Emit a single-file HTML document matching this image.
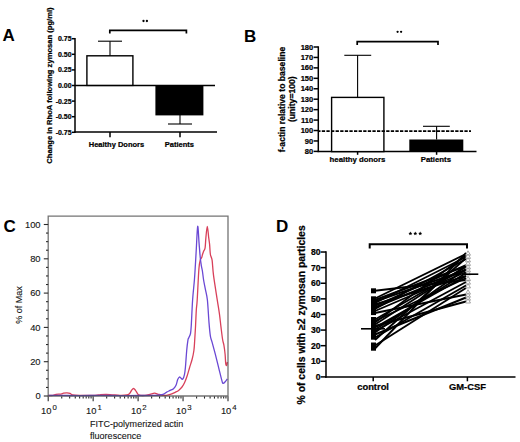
<!DOCTYPE html>
<html><head><meta charset="utf-8"><style>
html,body{margin:0;padding:0;background:#fff;width:520px;height:442px;overflow:hidden}
svg{display:block}
text{font-family:"Liberation Sans",sans-serif}
.b{font-weight:bold;fill:#000;stroke:#000;stroke-width:0.22px}
.r{fill:#151515;stroke:#151515;stroke-width:0.12px}
.lbl{font-weight:bold;font-size:17px;fill:#000}
.k15{stroke:#000;stroke-width:1.5}
.k1{stroke:#000;stroke-width:1.1}
.g{stroke:#2a2a2a;stroke-width:1.1}
</style></head><body>
<svg width="520" height="442" viewBox="0 0 520 442">
<rect width="520" height="442" fill="#fff"/>
<text x="2.6" y="40.8" class="lbl">A</text>
<text transform="translate(51.8,85.6) rotate(-90)" text-anchor="middle" class="b" font-size="7.6">Change in RhoA following zymosan (pg/ml)</text>
<text x="71.6" y="41.2" text-anchor="end" class="b" font-size="7">0.75</text>
<line x1="72" y1="38.7" x2="75" y2="38.7" class="k15"/>
<text x="71.6" y="56.8" text-anchor="end" class="b" font-size="7">0.50</text>
<line x1="72" y1="54.3" x2="75" y2="54.3" class="k15"/>
<text x="71.6" y="72.4" text-anchor="end" class="b" font-size="7">0.25</text>
<line x1="72" y1="69.9" x2="75" y2="69.9" class="k15"/>
<text x="71.6" y="88" text-anchor="end" class="b" font-size="7">0.00</text>
<line x1="72" y1="85.5" x2="75" y2="85.5" class="k15"/>
<text x="71.6" y="103.6" text-anchor="end" class="b" font-size="7">-0.25</text>
<line x1="72" y1="101.1" x2="75" y2="101.1" class="k15"/>
<text x="71.6" y="119.2" text-anchor="end" class="b" font-size="7">-0.50</text>
<line x1="72" y1="116.7" x2="75" y2="116.7" class="k15"/>
<text x="71.6" y="134.8" text-anchor="end" class="b" font-size="7">-0.75</text>
<line x1="72" y1="132.3" x2="75" y2="132.3" class="k15"/>
<line x1="75" y1="38" x2="75" y2="133.1" class="k15"/>
<line x1="74.3" y1="132.1" x2="217" y2="132.1" class="k15"/>
<line x1="110" y1="132.1" x2="110" y2="137.3" class="k15"/>
<line x1="180" y1="132.1" x2="180" y2="137.3" class="k15"/>
<line x1="75" y1="85.4" x2="215" y2="85.4" class="k15"/>
<rect x="86.9" y="55.8" width="46" height="29.6" fill="#fff" stroke="#000" stroke-width="1.4"/>
<line x1="110" y1="55.8" x2="110" y2="41.2" class="k1"/><line x1="98" y1="41.2" x2="122" y2="41.2" class="k1"/>
<rect x="155.4" y="85.4" width="48" height="30" fill="#000"/>
<line x1="180" y1="115" x2="180" y2="124" class="k1"/><line x1="168" y1="124" x2="192" y2="124" class="k1"/>
<path d="M109.8 33.5V30.35H186.4V33.5" fill="none" stroke="#000" stroke-width="1.7"/>
<circle cx="143.5" cy="21" r="1.15"/><circle cx="146.9" cy="21" r="1.15"/>
<text x="116.5" y="147.3" text-anchor="middle" class="b" font-size="7.5">Healthy Donors</text>
<text x="179.4" y="147.3" text-anchor="middle" class="b" font-size="7.5">Patients</text>
<text x="244" y="41.6" class="lbl">B</text>
<text transform="translate(285.2,99.6) rotate(-90)" text-anchor="middle" class="b" font-size="8.6">f-actin relative to baseline</text>
<text transform="translate(295.4,99.2) rotate(-90)" text-anchor="middle" class="b" font-size="8.6">(unity=100)</text>
<text x="313.2" y="154" text-anchor="end" class="b" font-size="7.5">80</text>
<line x1="313.6" y1="151.4" x2="318.3" y2="151.4" class="k15"/>
<text x="313.2" y="143.56" text-anchor="end" class="b" font-size="7.5">90</text>
<line x1="313.6" y1="140.96" x2="318.3" y2="140.96" class="k15"/>
<text x="313.2" y="133.12" text-anchor="end" class="b" font-size="7.5">100</text>
<line x1="313.6" y1="130.52" x2="318.3" y2="130.52" class="k15"/>
<text x="313.2" y="122.68" text-anchor="end" class="b" font-size="7.5">110</text>
<line x1="313.6" y1="120.08" x2="318.3" y2="120.08" class="k15"/>
<text x="313.2" y="112.24" text-anchor="end" class="b" font-size="7.5">120</text>
<line x1="313.6" y1="109.64" x2="318.3" y2="109.64" class="k15"/>
<text x="313.2" y="101.8" text-anchor="end" class="b" font-size="7.5">130</text>
<line x1="313.6" y1="99.2" x2="318.3" y2="99.2" class="k15"/>
<text x="313.2" y="91.36" text-anchor="end" class="b" font-size="7.5">140</text>
<line x1="313.6" y1="88.76" x2="318.3" y2="88.76" class="k15"/>
<text x="313.2" y="80.92" text-anchor="end" class="b" font-size="7.5">150</text>
<line x1="313.6" y1="78.32" x2="318.3" y2="78.32" class="k15"/>
<text x="313.2" y="70.48" text-anchor="end" class="b" font-size="7.5">160</text>
<line x1="313.6" y1="67.88" x2="318.3" y2="67.88" class="k15"/>
<text x="313.2" y="60.04" text-anchor="end" class="b" font-size="7.5">170</text>
<line x1="313.6" y1="57.44" x2="318.3" y2="57.44" class="k15"/>
<text x="313.2" y="49.6" text-anchor="end" class="b" font-size="7.5">180</text>
<line x1="313.6" y1="47" x2="318.3" y2="47" class="k15"/>
<line x1="318.3" y1="46.3" x2="318.3" y2="152.1" class="k15"/>
<line x1="317.6" y1="151.6" x2="476.5" y2="151.6" class="k15"/>
<line x1="357.6" y1="151.6" x2="357.6" y2="154.8" class="k15"/>
<line x1="436.6" y1="151.6" x2="436.6" y2="154.8" class="k15"/>
<rect x="331.6" y="97.4" width="52.3" height="54.2" fill="#fff" stroke="#000" stroke-width="1.4"/>
<line x1="357.6" y1="97.4" x2="357.6" y2="55.3" class="k1"/><line x1="344.3" y1="55.3" x2="371.2" y2="55.3" class="k1"/>
<line x1="436.6" y1="139.5" x2="436.6" y2="126.3" class="k1"/><line x1="423" y1="126.3" x2="449.8" y2="126.3" class="k1"/>
<line x1="318.5" y1="131.1" x2="471" y2="131.1" stroke="#000" stroke-width="1.7" stroke-dasharray="3.3 1.3" stroke-dashoffset="1.3"/>
<rect x="409.3" y="139.5" width="54" height="12.1" fill="#000"/>
<path d="M357.2 45V41.6H438V45" fill="none" stroke="#000" stroke-width="1.7"/>
<circle cx="397.6" cy="31.8" r="1.15"/><circle cx="401.1" cy="31.8" r="1.15"/>
<text x="357.5" y="162" text-anchor="middle" class="b" font-size="7.8">healthy donors</text>
<text x="435.9" y="162" text-anchor="middle" class="b" font-size="7.8">Patients</text>
<text x="3.6" y="231.6" class="lbl">C</text>
<path d="M48.6 395.5C49.33 395.47 51.77 395.5 53 395.3C54.23 395.1 54.67 394.5 56 394.3C57.33 394.1 59.75 394.28 61 394.1C62.25 393.92 62.5 393.4 63.5 393.2C64.5 393 65.92 392.88 67 392.9C68.08 392.92 69.08 392.95 70 393.3C70.92 393.65 70.83 394.65 72.5 395C74.17 395.35 76.25 395.35 80 395.4C83.75 395.45 91.67 395.4 95 395.3C98.33 395.2 98.17 394.93 100 394.8C101.83 394.67 104 394.5 106 394.5C108 394.5 109.67 394.67 112 394.8C114.33 394.93 117.53 395.27 120 395.3C122.47 395.33 125.22 395.28 126.8 395C128.38 394.72 128.72 394.35 129.5 393.6C130.28 392.85 130.83 391.35 131.5 390.5C132.17 389.65 132.83 388.53 133.5 388.5C134.17 388.47 134.83 389.45 135.5 390.3C136.17 391.15 136.83 392.78 137.5 393.6C138.17 394.42 138.25 394.9 139.5 395.2C140.75 395.5 143.25 395.53 145 395.4C146.75 395.27 148.4 394.77 150 394.4C151.6 394.03 153.1 393.18 154.6 393.2C156.1 393.22 157.27 394.13 159 394.5C160.73 394.87 163.43 395.35 165 395.4C166.57 395.45 167.27 395.07 168.4 394.8C169.53 394.53 170.67 394.22 171.8 393.8C172.93 393.38 174.07 392.87 175.2 392.3C176.33 391.73 177.47 391.28 178.6 390.4C179.73 389.52 181.02 388.27 182 387C182.98 385.73 183.65 384.63 184.5 382.8C185.35 380.97 186.25 378.55 187.1 376C187.95 373.45 188.75 370.33 189.6 367.5C190.45 364.67 191.48 361.83 192.2 359C192.92 356.17 193.48 353.62 193.9 350.5C194.32 347.38 194.42 344.55 194.7 340.3C194.98 336.05 195.33 330.05 195.6 325C195.87 319.95 196.03 314.17 196.3 310C196.57 305.83 196.77 306.83 197.2 300C197.63 293.17 198.38 275.67 198.9 269C199.42 262.33 199.83 261.92 200.3 260C200.77 258.08 201.33 258.42 201.7 257.5C202.07 256.58 202.18 255.55 202.5 254.5C202.82 253.45 203.17 252.32 203.6 251.2C204.03 250.08 204.72 250.07 205.1 247.8C205.48 245.53 205.53 241.18 205.9 237.6C206.27 234.02 206.83 226.3 207.3 226.3C207.77 226.3 208.32 234.58 208.7 237.6C209.08 240.62 209.32 241.58 209.6 244.4C209.88 247.22 209.98 251.87 210.4 254.5C210.82 257.13 211.58 256.75 212.1 260.2C212.62 263.65 212.65 268.63 213.5 275.2C214.35 281.77 216.22 293.2 217.2 299.6C218.18 306 218.77 309.02 219.4 313.6C220.03 318.18 220.47 322.78 221 327.1C221.53 331.42 222.12 336.48 222.6 339.5C223.08 342.52 223.48 342.75 223.9 345.2C224.32 347.65 224.8 351.18 225.1 354.2C225.4 357.22 225.45 361.42 225.7 363.3C225.95 365.18 226.33 365.72 226.6 365.5C226.87 365.28 227.18 362.58 227.3 362" fill="none" stroke="#d8405a" stroke-width="1.3" stroke-linejoin="round"/>
<path d="M48.6 395.5C50.5 395.48 54.77 395.38 60 395.4C65.23 395.42 73.33 395.6 80 395.6C86.67 395.6 93.33 395.4 100 395.4C106.67 395.4 113.33 395.58 120 395.6C126.67 395.62 134.17 395.55 140 395.5C145.83 395.45 151.67 395.38 155 395.3C158.33 395.22 158.57 395.18 160 395C161.43 394.82 162.48 394.68 163.6 394.2C164.72 393.72 165.62 392.73 166.7 392.1C167.78 391.47 168.97 390.97 170.1 390.4C171.23 389.83 172.52 389.55 173.5 388.7C174.48 387.85 175.3 386.82 176 385.3C176.7 383.78 177.13 380.98 177.7 379.6C178.27 378.22 178.83 377.22 179.4 377C179.97 376.78 180.53 377.93 181.1 378.3C181.67 378.67 182.23 379.87 182.8 379.2C183.37 378.53 184.07 376.25 184.5 374.3C184.93 372.35 185.03 371.47 185.4 367.5C185.77 363.53 186.28 355.03 186.7 350.5C187.12 345.97 187.55 342.43 187.9 340.3C188.25 338.17 188.37 338.83 188.8 337.7C189.23 336.57 190.08 335.62 190.5 333.5C190.92 331.38 190.95 330.58 191.3 325C191.65 319.42 192.08 307.5 192.6 300C193.12 292.5 193.93 285.88 194.4 280C194.87 274.12 195.08 269.87 195.4 264.7C195.72 259.53 195.92 255.4 196.3 249C196.68 242.6 197.23 227.2 197.7 226.3C198.17 225.4 198.67 238.32 199.1 243.6C199.53 248.88 199.92 254.27 200.3 258C200.68 261.73 201.05 263.83 201.4 266C201.75 268.17 202.03 268.67 202.4 271C202.77 273.33 203.1 276.93 203.6 280C204.1 283.07 204.77 286.07 205.4 289.4C206.03 292.73 206.8 294.47 207.4 300C208 305.53 208.5 316.57 209 322.6C209.5 328.63 209.9 333 210.4 336.2C210.9 339.4 211.18 338.8 212 341.8C212.82 344.8 214.18 349.87 215.3 354.2C216.42 358.53 217.57 363.27 218.7 367.8C219.83 372.33 221.35 378.8 222.1 381.4C222.85 384 222.63 383.4 223.2 383.4C223.77 383.4 224.82 382.13 225.5 381.4C226.18 380.67 227 379.4 227.3 379" fill="none" stroke="#6a48d4" stroke-width="1.3" stroke-linejoin="round"/>
<path d="M48.2 216.2H228V396H48.2Z" fill="none" stroke="#444" stroke-opacity="0.75" stroke-width="1.3"/>
<line x1="43.8" y1="396" x2="48.2" y2="396" class="g"/>
<text x="40.6" y="399.3" text-anchor="end" class="r" font-size="9.4">0</text>
<line x1="46" y1="387.43" x2="48.2" y2="387.43" class="g"/>
<line x1="46" y1="378.85" x2="48.2" y2="378.85" class="g"/>
<line x1="46" y1="370.27" x2="48.2" y2="370.27" class="g"/>
<line x1="43.8" y1="361.7" x2="48.2" y2="361.7" class="g"/>
<text x="40.6" y="365" text-anchor="end" class="r" font-size="9.4">20</text>
<line x1="46" y1="353.12" x2="48.2" y2="353.12" class="g"/>
<line x1="46" y1="344.55" x2="48.2" y2="344.55" class="g"/>
<line x1="46" y1="335.98" x2="48.2" y2="335.98" class="g"/>
<line x1="43.8" y1="327.4" x2="48.2" y2="327.4" class="g"/>
<text x="40.6" y="330.7" text-anchor="end" class="r" font-size="9.4">40</text>
<line x1="46" y1="318.82" x2="48.2" y2="318.82" class="g"/>
<line x1="46" y1="310.25" x2="48.2" y2="310.25" class="g"/>
<line x1="46" y1="301.68" x2="48.2" y2="301.68" class="g"/>
<line x1="43.8" y1="293.1" x2="48.2" y2="293.1" class="g"/>
<text x="40.6" y="296.4" text-anchor="end" class="r" font-size="9.4">60</text>
<line x1="46" y1="284.52" x2="48.2" y2="284.52" class="g"/>
<line x1="46" y1="275.95" x2="48.2" y2="275.95" class="g"/>
<line x1="46" y1="267.38" x2="48.2" y2="267.38" class="g"/>
<line x1="43.8" y1="258.8" x2="48.2" y2="258.8" class="g"/>
<text x="40.6" y="262.1" text-anchor="end" class="r" font-size="9.4">80</text>
<line x1="46" y1="250.22" x2="48.2" y2="250.22" class="g"/>
<line x1="46" y1="241.65" x2="48.2" y2="241.65" class="g"/>
<line x1="46" y1="233.07" x2="48.2" y2="233.07" class="g"/>
<line x1="43.8" y1="224.5" x2="48.2" y2="224.5" class="g"/>
<text x="40.6" y="227.8" text-anchor="end" class="r" font-size="9.4">100</text>
<line x1="48.2" y1="396.4" x2="48.2" y2="401.2" class="g"/>
<line x1="61.73" y1="396.4" x2="61.73" y2="398.6" class="g"/>
<line x1="69.65" y1="396.4" x2="69.65" y2="398.6" class="g"/>
<line x1="75.26" y1="396.4" x2="75.26" y2="398.6" class="g"/>
<line x1="79.62" y1="396.4" x2="79.62" y2="398.6" class="g"/>
<line x1="83.18" y1="396.4" x2="83.18" y2="398.6" class="g"/>
<line x1="86.19" y1="396.4" x2="86.19" y2="398.6" class="g"/>
<line x1="88.79" y1="396.4" x2="88.79" y2="398.6" class="g"/>
<line x1="91.09" y1="396.4" x2="91.09" y2="398.6" class="g"/>
<line x1="93.15" y1="396.4" x2="93.15" y2="401.2" class="g"/>
<line x1="106.68" y1="396.4" x2="106.68" y2="398.6" class="g"/>
<line x1="114.6" y1="396.4" x2="114.6" y2="398.6" class="g"/>
<line x1="120.21" y1="396.4" x2="120.21" y2="398.6" class="g"/>
<line x1="124.57" y1="396.4" x2="124.57" y2="398.6" class="g"/>
<line x1="128.13" y1="396.4" x2="128.13" y2="398.6" class="g"/>
<line x1="131.14" y1="396.4" x2="131.14" y2="398.6" class="g"/>
<line x1="133.74" y1="396.4" x2="133.74" y2="398.6" class="g"/>
<line x1="136.04" y1="396.4" x2="136.04" y2="398.6" class="g"/>
<line x1="138.1" y1="396.4" x2="138.1" y2="401.2" class="g"/>
<line x1="151.63" y1="396.4" x2="151.63" y2="398.6" class="g"/>
<line x1="159.55" y1="396.4" x2="159.55" y2="398.6" class="g"/>
<line x1="165.16" y1="396.4" x2="165.16" y2="398.6" class="g"/>
<line x1="169.52" y1="396.4" x2="169.52" y2="398.6" class="g"/>
<line x1="173.08" y1="396.4" x2="173.08" y2="398.6" class="g"/>
<line x1="176.09" y1="396.4" x2="176.09" y2="398.6" class="g"/>
<line x1="178.69" y1="396.4" x2="178.69" y2="398.6" class="g"/>
<line x1="180.99" y1="396.4" x2="180.99" y2="398.6" class="g"/>
<line x1="183.05" y1="396.4" x2="183.05" y2="401.2" class="g"/>
<line x1="196.58" y1="396.4" x2="196.58" y2="398.6" class="g"/>
<line x1="204.5" y1="396.4" x2="204.5" y2="398.6" class="g"/>
<line x1="210.11" y1="396.4" x2="210.11" y2="398.6" class="g"/>
<line x1="214.47" y1="396.4" x2="214.47" y2="398.6" class="g"/>
<line x1="218.03" y1="396.4" x2="218.03" y2="398.6" class="g"/>
<line x1="221.04" y1="396.4" x2="221.04" y2="398.6" class="g"/>
<line x1="223.64" y1="396.4" x2="223.64" y2="398.6" class="g"/>
<line x1="225.94" y1="396.4" x2="225.94" y2="398.6" class="g"/>
<line x1="228" y1="396.4" x2="228" y2="401.2" class="g"/>
<text x="41.1" y="413.9" class="r" font-size="9.4">10<tspan dx="0.9" dy="-4.4" font-size="7.8">0</tspan></text>
<text x="86.05" y="413.9" class="r" font-size="9.4">10<tspan dx="0.9" dy="-4.4" font-size="7.8">1</tspan></text>
<text x="131" y="413.9" class="r" font-size="9.4">10<tspan dx="0.9" dy="-4.4" font-size="7.8">2</tspan></text>
<text x="175.95" y="413.9" class="r" font-size="9.4">10<tspan dx="0.9" dy="-4.4" font-size="7.8">3</tspan></text>
<text x="220.9" y="413.9" class="r" font-size="9.4">10<tspan dx="0.9" dy="-4.4" font-size="7.8">4</tspan></text>
<text transform="translate(22.3,305) rotate(-90)" text-anchor="middle" class="r" font-size="9">% of Max</text>
<text transform="translate(90.1,426.8) scale(0.94,1)" class="r" font-size="9.6">FITC-polymerized actin</text>
<text transform="translate(90.1,438.5) scale(0.94,1)" class="r" font-size="9.6">fluorescence</text>
<text x="276" y="232.1" class="lbl">D</text>
<text transform="translate(305.2,314.9) rotate(-90)" text-anchor="middle" class="b" font-size="10.42">% of cells with ≥2 zymosan particles</text>
<text x="320.5" y="380" text-anchor="end" class="b" font-size="8.6">0</text>
<line x1="320.6" y1="376.9" x2="326" y2="376.9" class="k15"/>
<text x="320.5" y="364.39" text-anchor="end" class="b" font-size="8.6">10</text>
<line x1="320.6" y1="361.29" x2="326" y2="361.29" class="k15"/>
<text x="320.5" y="348.78" text-anchor="end" class="b" font-size="8.6">20</text>
<line x1="320.6" y1="345.68" x2="326" y2="345.68" class="k15"/>
<text x="320.5" y="333.17" text-anchor="end" class="b" font-size="8.6">30</text>
<line x1="320.6" y1="330.07" x2="326" y2="330.07" class="k15"/>
<text x="320.5" y="317.56" text-anchor="end" class="b" font-size="8.6">40</text>
<line x1="320.6" y1="314.46" x2="326" y2="314.46" class="k15"/>
<text x="320.5" y="301.95" text-anchor="end" class="b" font-size="8.6">50</text>
<line x1="320.6" y1="298.85" x2="326" y2="298.85" class="k15"/>
<text x="320.5" y="286.34" text-anchor="end" class="b" font-size="8.6">60</text>
<line x1="320.6" y1="283.24" x2="326" y2="283.24" class="k15"/>
<text x="320.5" y="270.73" text-anchor="end" class="b" font-size="8.6">70</text>
<line x1="320.6" y1="267.63" x2="326" y2="267.63" class="k15"/>
<text x="320.5" y="255.12" text-anchor="end" class="b" font-size="8.6">80</text>
<line x1="320.6" y1="252.02" x2="326" y2="252.02" class="k15"/>
<line x1="326" y1="251.22" x2="326" y2="377.7" class="k15"/>
<line x1="325.3" y1="376.9" x2="515.5" y2="376.9" class="k15"/>
<line x1="373.2" y1="376.9" x2="373.2" y2="381.3" class="k15"/>
<line x1="467.4" y1="376.9" x2="467.4" y2="381.3" class="k15"/>
<text x="373.1" y="389.9" text-anchor="middle" class="b" font-size="9.4">control</text>
<text x="467.5" y="389.9" text-anchor="middle" class="b" font-size="9.4">GM-CSF</text>
<path d="M369.7 248.6V244.2H467V248.4" fill="none" stroke="#000" stroke-width="2"/>
<polygon points="410.40,231.60 410.99,232.79 412.30,232.98 411.35,233.91 411.58,235.22 410.40,234.60 409.22,235.22 409.45,233.91 408.50,232.98 409.81,232.79"/><polygon points="415.30,231.60 415.89,232.79 417.20,232.98 416.25,233.91 416.48,235.22 415.30,234.60 414.12,235.22 414.35,233.91 413.40,232.98 414.71,232.79"/><polygon points="420.20,231.60 420.79,232.79 422.10,232.98 421.15,233.91 421.38,235.22 420.20,234.60 419.02,235.22 419.25,233.91 418.30,232.98 419.61,232.79"/>
<line x1="375" y1="290.8" x2="466" y2="280" stroke="#000" stroke-width="1.9"/>
<line x1="375" y1="298.5" x2="466" y2="254" stroke="#000" stroke-width="1.9"/>
<line x1="375" y1="300" x2="466" y2="266" stroke="#000" stroke-width="1.9"/>
<line x1="375" y1="301.5" x2="466" y2="270" stroke="#000" stroke-width="1.9"/>
<line x1="375" y1="303" x2="466" y2="257" stroke="#000" stroke-width="1.9"/>
<line x1="375" y1="304.5" x2="466" y2="276" stroke="#000" stroke-width="1.9"/>
<line x1="375" y1="306" x2="466" y2="265" stroke="#000" stroke-width="1.9"/>
<line x1="375" y1="307.5" x2="466" y2="270" stroke="#000" stroke-width="1.9"/>
<line x1="375" y1="309" x2="466" y2="259" stroke="#000" stroke-width="1.9"/>
<line x1="375" y1="311" x2="466" y2="272" stroke="#000" stroke-width="1.9"/>
<line x1="375" y1="313" x2="466" y2="294.5" stroke="#000" stroke-width="1.9"/>
<line x1="375" y1="319.5" x2="466" y2="267" stroke="#000" stroke-width="1.9"/>
<line x1="375" y1="321" x2="466" y2="278" stroke="#000" stroke-width="1.9"/>
<line x1="375" y1="322.5" x2="466" y2="255" stroke="#000" stroke-width="1.9"/>
<line x1="375" y1="324.5" x2="466" y2="266" stroke="#000" stroke-width="1.9"/>
<line x1="375" y1="326" x2="466" y2="301.5" stroke="#000" stroke-width="1.9"/>
<line x1="375" y1="327.5" x2="466" y2="276" stroke="#000" stroke-width="1.9"/>
<line x1="375" y1="329.5" x2="466" y2="273" stroke="#000" stroke-width="1.9"/>
<line x1="375" y1="331" x2="466" y2="282" stroke="#000" stroke-width="1.9"/>
<line x1="375" y1="332.5" x2="466" y2="269" stroke="#000" stroke-width="1.9"/>
<line x1="375" y1="334.5" x2="466" y2="297.5" stroke="#000" stroke-width="1.9"/>
<line x1="375" y1="337.5" x2="466" y2="285.5" stroke="#000" stroke-width="1.9"/>
<line x1="375" y1="340" x2="466" y2="258" stroke="#000" stroke-width="1.9"/>
<line x1="375" y1="345.5" x2="466" y2="288" stroke="#000" stroke-width="1.9"/>
<line x1="375" y1="348.5" x2="466" y2="253" stroke="#000" stroke-width="1.9"/>
<rect x="371" y="288.3" width="5" height="5" fill="#000"/>
<rect x="371" y="296.3" width="5" height="5" fill="#000"/>
<rect x="371" y="299" width="5" height="5" fill="#000"/>
<rect x="371" y="301.5" width="5" height="5" fill="#000"/>
<rect x="371" y="304" width="5" height="5" fill="#000"/>
<rect x="371" y="306.5" width="5" height="5" fill="#000"/>
<rect x="371" y="310.1" width="5" height="5" fill="#000"/>
<rect x="371" y="317" width="5" height="5" fill="#000"/>
<rect x="371" y="319.5" width="5" height="5" fill="#000"/>
<rect x="371" y="322" width="5" height="5" fill="#000"/>
<rect x="371" y="324.5" width="5" height="5" fill="#000"/>
<rect x="371" y="327" width="5" height="5" fill="#000"/>
<rect x="371" y="329.5" width="5" height="5" fill="#000"/>
<rect x="371" y="332" width="5" height="5" fill="#000"/>
<rect x="371" y="334.7" width="5" height="5" fill="#000"/>
<rect x="371" y="342.5" width="5" height="5" fill="#000"/>
<rect x="371" y="345.7" width="5" height="5" fill="#000"/>
<line x1="361" y1="328.8" x2="385" y2="328.8" stroke="#000" stroke-width="1.6"/>
<path d="M468 250.8L470.5 255.2H465.5Z" fill="#fff" stroke="#8a8a8a" stroke-width="0.75"/>
<path d="M468 254L470.5 258.4H465.5Z" fill="#fff" stroke="#8a8a8a" stroke-width="0.75"/>
<path d="M468 257.5L470.5 261.9H465.5Z" fill="#fff" stroke="#8a8a8a" stroke-width="0.75"/>
<path d="M468 261L470.5 265.4H465.5Z" fill="#fff" stroke="#8a8a8a" stroke-width="0.75"/>
<path d="M468 264.5L470.5 268.9H465.5Z" fill="#fff" stroke="#8a8a8a" stroke-width="0.75"/>
<path d="M468 267.5L470.5 271.9H465.5Z" fill="#fff" stroke="#8a8a8a" stroke-width="0.75"/>
<path d="M468 270.5L470.5 274.9H465.5Z" fill="#fff" stroke="#8a8a8a" stroke-width="0.75"/>
<path d="M468 276.2L470.5 280.6H465.5Z" fill="#fff" stroke="#8a8a8a" stroke-width="0.75"/>
<path d="M468 279.7L470.5 284.1H465.5Z" fill="#fff" stroke="#8a8a8a" stroke-width="0.75"/>
<path d="M468 283.5L470.5 287.9H465.5Z" fill="#fff" stroke="#8a8a8a" stroke-width="0.75"/>
<path d="M468 289.7L470.5 294.1H465.5Z" fill="#fff" stroke="#8a8a8a" stroke-width="0.75"/>
<path d="M468 292.8L470.5 297.2H465.5Z" fill="#fff" stroke="#8a8a8a" stroke-width="0.75"/>
<path d="M468 295.8L470.5 300.2H465.5Z" fill="#fff" stroke="#8a8a8a" stroke-width="0.75"/>
<path d="M468 298.6L470.5 303H465.5Z" fill="#fff" stroke="#8a8a8a" stroke-width="0.75"/>
<line x1="462" y1="274.2" x2="478.3" y2="274.2" stroke="#000" stroke-width="1.6"/>
</svg>
</body></html>
